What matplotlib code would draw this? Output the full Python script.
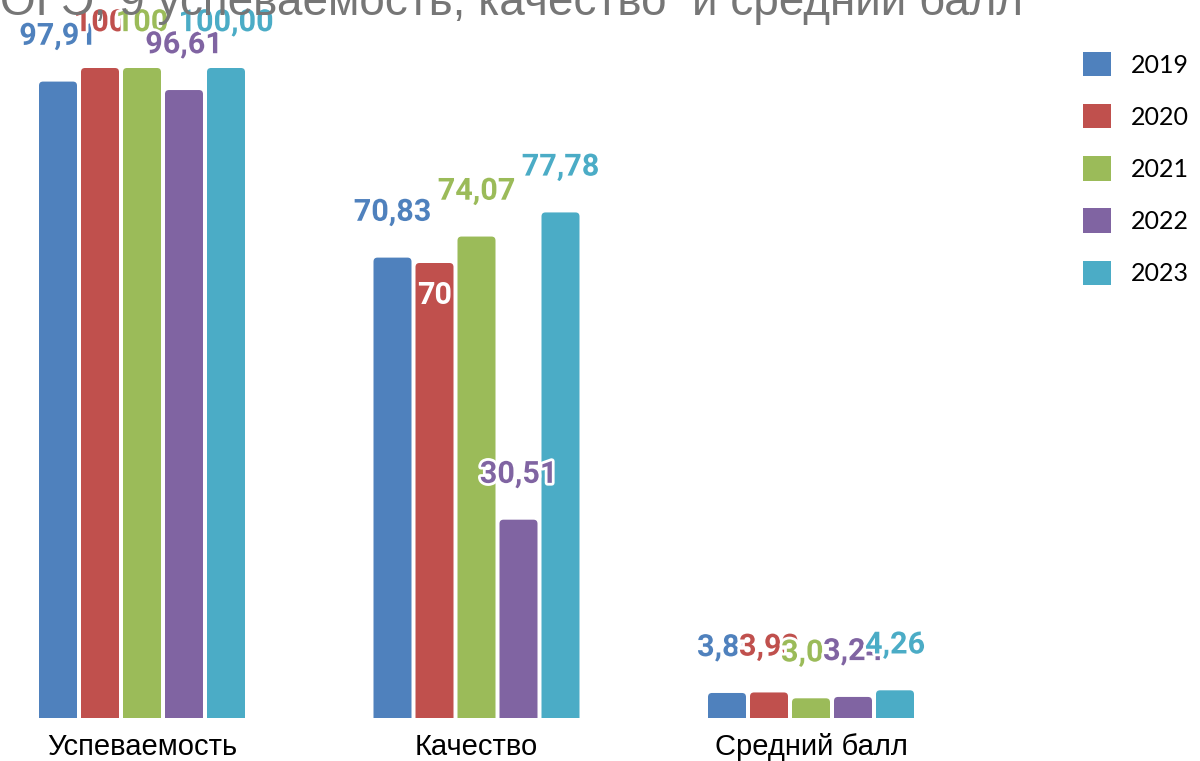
import matplotlib
matplotlib.use("Agg")
import matplotlib.pyplot as plt
import matplotlib.patheffects as pe
from matplotlib.patches import FancyBboxPatch
import numpy as np

title = "ОГЭ, 9 успеваемость, качество  и средний балл"
categories = ["Успеваемость", "Качество", "Средний балл"]
years = ["2019", "2020", "2021", "2022", "2023"]
colors = ["#4F81BD", "#C0504D", "#9BBB59", "#8064A2", "#4BACC6"]

v2019 = [97.91, 70.83, 3.85]
v2020 = [100, 70, 3.93]
v2021 = [100, 74.07, 3.03]
v2022 = [96.61, 30.51, 3.24]
v2023 = [100.00, 77.78, 4.26]

l2019 = ["97,91", "70,83", "3,85"]
l2020 = ["100", "70", "3,93"]
l2021 = ["100", "74,07", "3,03"]
l2022 = ["96,61", "30,51", "3,24"]
l2023 = ["100,00", "77,78", "4,26"]

series = [v2019, v2020, v2021, v2022, v2023]
labels = [l2019, l2020, l2021, l2022, l2023]

W, H = 1200, 761
fig = plt.figure(figsize=(W / 100, H / 100), dpi=100)
ax = fig.add_axes([20 / W, 43 / H, 1030 / W, 718 / H])

pitch = 334.5
x = np.arange(len(categories))
bw = 38 / pitch
step = 42 / pitch
ax.set_xlim((20 - 142) / pitch, (1050 - 142) / pitch)
ax.set_ylim(0, 718 / 6.5)

xpx = 1 / pitch
ypx = 1 / 6.5
aspect = ypx / xpx

for i, (vals, labs, col, yr) in enumerate(zip(series, labels, colors, years)):
    xs = x + (i - 2) * step
    bars = ax.bar(xs, vals, width=bw, color=col, label=yr)
    for b, lab in zip(bars, labs):
        bx, by, bwid, bh = b.get_x(), b.get_y(), b.get_width(), b.get_height()
        b.set_visible(False)
        r = 4 * xpx
        p = FancyBboxPatch((bx, by - 3), bwid, bh + 3,
                           boxstyle=f"round,pad=0,rounding_size={r}",
                           mutation_aspect=aspect, facecolor=col,
                           edgecolor="none", clip_on=True)
        ax.add_patch(p)
        if lab == "70":
            ax.annotate(lab, (bx + bwid / 2, bh), xytext=(0, -23),
                        textcoords="offset points", ha="center", va="center",
                        fontsize=22, fontweight="bold", family="Roboto",
                        color="white")
        else:
            ax.annotate(lab, (bx + bwid / 2, bh), xytext=(0, 33),
                        textcoords="offset points", ha="center", va="center",
                        fontsize=22, fontweight="bold", family="Roboto",
                        color=col,
                        path_effects=[pe.withStroke(linewidth=4, foreground="white")])

ax.set_xticks(x)
ax.set_xticklabels(categories, fontsize=21, family="Liberation Sans", color="#000000")
ax.tick_params(axis="x", length=0, pad=11)
ax.set_yticks([])
for s in ax.spines.values():
    s.set_visible(False)

fig.text(0 / W, 1 - 15 / H, title, fontsize=33, family="Liberation Sans",
         color="#767676", ha="left", va="baseline")

handles = [plt.Rectangle((0, 0), 1, 1, facecolor=c, edgecolor="none") for c in colors]
fig.legend(handles, years, loc="upper left", bbox_to_anchor=(1083 / W, 1 - 52 / H),
           frameon=False, prop={"family": "Lato", "size": 18},
           handlelength=1.12, handleheight=1.12, handletextpad=0.8,
           labelspacing=1.1, borderpad=0, borderaxespad=0)

fig.savefig("out.png", dpi=100)
